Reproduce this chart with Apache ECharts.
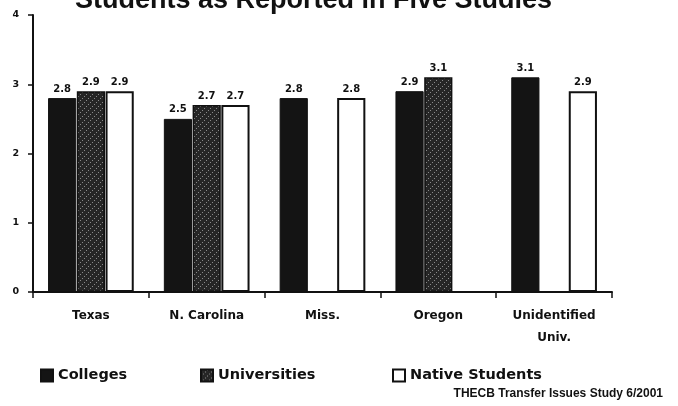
<!DOCTYPE html>
<html>
<head>
<meta charset="utf-8">
<script src="https://cdn.jsdelivr.net/npm/echarts@6/dist/echarts.min.js"></script>
<style>
  html, body { margin: 0; padding: 0; background: #ffffff; }
  #chart { width: 678px; height: 406px; }
</style>
</head>
<body>
<div id="chart"></div>
<script>
// Mean GPA by study and student group
const categories = ['Texas', 'N. Carolina', 'Miss.', 'Oregon', 'Unidentified\nUniv.'];
const colleges = [2.8, 2.5, 2.8, 2.9, 3.1];
const universities = [2.9, 2.7, null, 3.1, null];
const nativeStudents = [2.9, 2.7, 2.8, null, 2.9];
const yTicks = [0, 1, 2, 3, 4];

const FONT_BOLD = '"DejaVu Sans", "Liberation Sans", sans-serif';

// Speckled dark fill for the universities bars
function speckle() {
  const c = document.createElement('canvas');
  c.width = 6; c.height = 6;
  const g = c.getContext('2d');
  g.fillStyle = '#262626';
  g.fillRect(0, 0, 6, 6);
  g.fillStyle = '#8a8a8a';
  [[0, 0], [4, 2], [2, 4]].forEach(function (p) {
    g.fillRect(p[0], p[1], 1, 1);
  });
  return { image: c, repeat: 'repeat' };
}

const valueLabel = {
  show: true,
  position: 'top',
  distance: 4,
  color: '#111',
  fontFamily: FONT_BOLD,
  fontWeight: 'bold',
  fontSize: 10,
  formatter: function (p) { return p.value.toFixed(1); }
};

const legendText = {
  color: '#111',
  fontFamily: FONT_BOLD,
  fontWeight: 'bold',
  fontSize: 14.5
};

function legendAt(name, left) {
  return {
    data: [name],
    left: left,
    top: 368,
    padding: 0,
    icon: 'rect',
    itemWidth: 12,
    itemHeight: 12,
    selectedMode: false,
    textStyle: legendText
  };
}

const chart = echarts.init(document.getElementById('chart'), null, { renderer: 'canvas' });

chart.setOption({
  animation: false,
  backgroundColor: '#ffffff',
  title: {
    text: 'Students as Reported in Five Studies',
    left: 75,
    top: -13,
    padding: 0,
    textStyle: {
      color: '#111',
      fontFamily: '"Liberation Sans", Arial, sans-serif',
      fontWeight: 'bold',
      fontSize: 27,
      lineHeight: 27
    }
  },
  legend: [
    legendAt('Colleges', 40),
    legendAt('Universities', 200),
    legendAt('Native Students', 392)
  ],
  grid: { left: 33, right: 66, top: 15, bottom: 114, containLabel: false },
  xAxis: {
    type: 'category',
    data: categories,
    axisLine: { lineStyle: { color: '#111', width: 2 } },
    axisTick: { show: true, length: 6, lineStyle: { color: '#111', width: 1.5 } },
    axisLabel: {
      color: '#111',
      fontFamily: FONT_BOLD,
      fontWeight: 'bold',
      fontSize: 12,
      lineHeight: 22,
      margin: 13,
      interval: 0
    }
  },
  yAxis: {
    type: 'value',
    min: yTicks[0],
    max: yTicks[yTicks.length - 1],
    interval: 1,
    splitLine: { show: false },
    axisLine: { show: true, lineStyle: { color: '#111', width: 2 } },
    axisTick: { show: true, length: 5, lineStyle: { color: '#111', width: 1.5 } },
    axisLabel: {
      color: '#111',
      fontFamily: FONT_BOLD,
      fontWeight: 'bold',
      fontSize: 9.5,
      margin: 14
    }
  },
  series: [
    {
      name: 'Colleges',
      type: 'bar',
      data: colleges,
      barGap: '2%',
      barCategoryGap: '26%',
      itemStyle: { color: '#141414', borderColor: '#111', borderWidth: 1 },
      label: valueLabel
    },
    {
      name: 'Universities',
      type: 'bar',
      data: universities,
      itemStyle: { color: speckle(), borderColor: '#111', borderWidth: 1.5 },
      label: valueLabel
    },
    {
      name: 'Native Students',
      type: 'bar',
      data: nativeStudents,
      itemStyle: { color: '#ffffff', borderColor: '#111', borderWidth: 2 },
      label: valueLabel
    }
  ],
  graphic: [
    {
      type: 'text',
      right: 15,
      top: 388,
      style: {
        text: 'THECB Transfer Issues Study 6/2001',
        fill: '#111',
        font: 'bold 12px "Liberation Sans Narrow", "Liberation Sans", sans-serif'
      }
    }
  ]
});
</script>
</body>
</html>
